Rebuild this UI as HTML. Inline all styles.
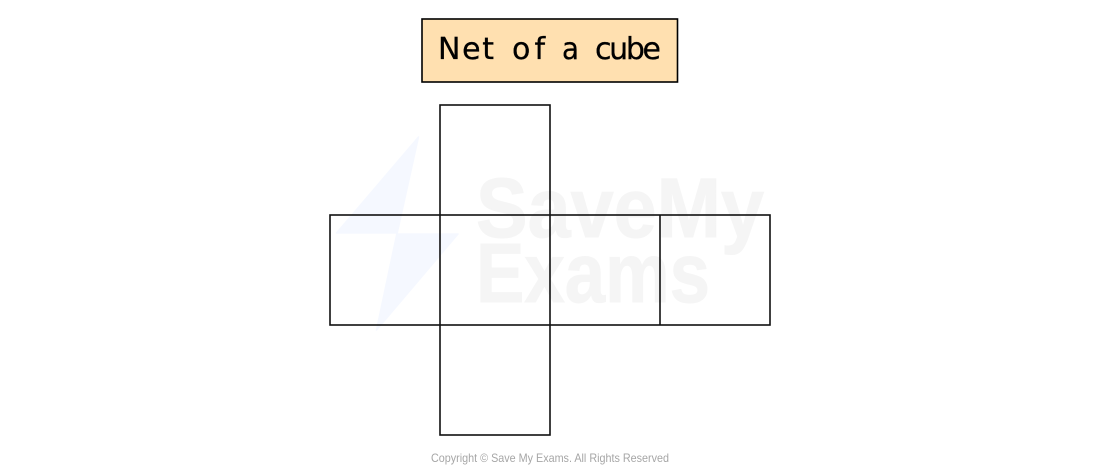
<!DOCTYPE html>
<html>
<head>
<meta charset="utf-8">
<style>
html,body{margin:0;padding:0;background:#fff;width:1100px;height:468px;overflow:hidden}
svg{display:block}
.t{font-family:'DejaVu Sans',sans-serif;font-size:30px;fill:#000;stroke:#000;stroke-width:.3px}
</style>
</head>
<body>
<svg width="1100" height="468" viewBox="0 0 1100 468" xmlns="http://www.w3.org/2000/svg">
<rect width="1100" height="468" fill="#fff"/>
<polygon points="418.5,137 336.5,233 397,233 376.5,330 458,234 397,234" fill="#f5f8ff" stroke="#f5f8ff" stroke-width="1.5" stroke-linejoin="round"/>
<text x="476" y="237" font-family="'Liberation Sans',sans-serif" font-weight="bold" font-size="84" fill="#f5f5f5" stroke="#f5f5f5" stroke-width="1" textLength="288" lengthAdjust="spacingAndGlyphs">SaveMy</text>
<text x="476" y="302" font-family="'Liberation Sans',sans-serif" font-weight="bold" font-size="84" fill="#f5f5f5" stroke="#f5f5f5" stroke-width="1" textLength="234" lengthAdjust="spacingAndGlyphs">Exams</text>
<rect x="422" y="19" width="255.5" height="63" fill="#ffe0b0" stroke="#000" stroke-width="1.6"/>
<text class="t" x="438" y="59" textLength="56" lengthAdjust="spacing">Net</text>
<text class="t" x="512" y="59" textLength="33" lengthAdjust="spacing">of</text>
<text class="t" x="562" y="59" textLength="17" lengthAdjust="spacingAndGlyphs">a</text>
<text class="t" x="595" y="59" textLength="66" lengthAdjust="spacing">cube</text>
<g fill="none" stroke="#111" stroke-width="1.6">
<rect x="440" y="105" width="110" height="330"/>
<rect x="330" y="215" width="440" height="110"/>
<line x1="660" y1="215" x2="660" y2="325"/>
</g>
<text x="431" y="462" font-family="'Liberation Sans',sans-serif" font-size="12" fill="#a6a6a6" textLength="238" lengthAdjust="spacingAndGlyphs">Copyright © Save My Exams. All Rights Reserved</text>
</svg>
</body>
</html>
